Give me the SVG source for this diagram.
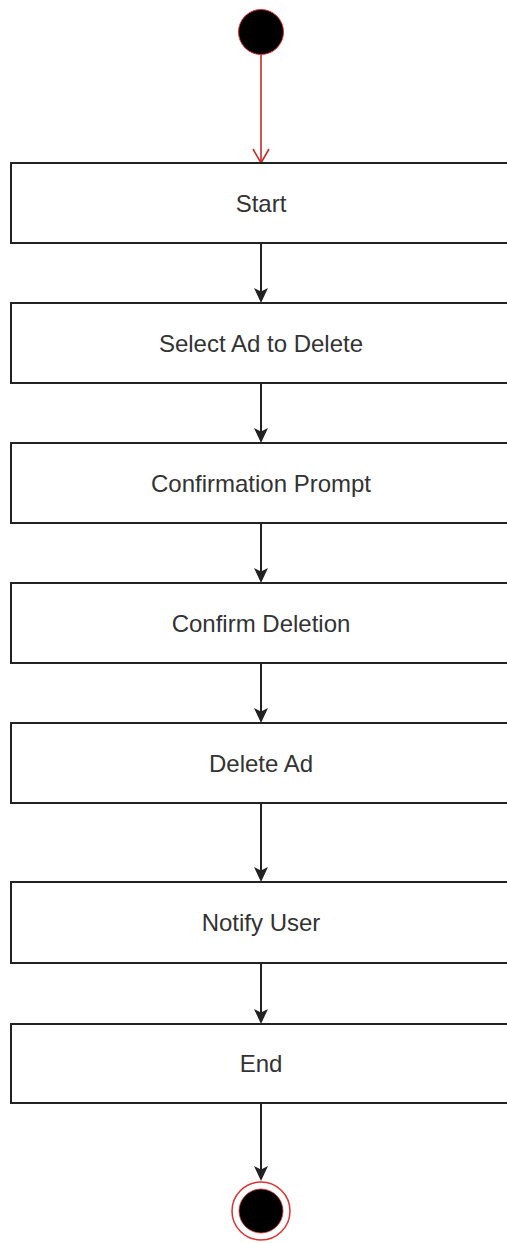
<svg xmlns="http://www.w3.org/2000/svg" width="507" height="1243" viewBox="0 0 507 1243">
  <defs>
    <style>
      .box { fill: #ffffff; stroke: #222222; stroke-width: 2; }
      .lbl { font-family: "Liberation Sans", Arial, sans-serif; font-size: 24px; fill: #333333; text-anchor: middle; dominant-baseline: central; }
      .flow { stroke: #222222; stroke-width: 2; fill: none; }
      .init { stroke: #c42a2a; stroke-width: 1.6; fill: none; }
    </style>
    <marker id="arr" viewBox="0 0 15 14" refX="8" refY="7" markerWidth="15" markerHeight="14" orient="auto" markerUnits="userSpaceOnUse">
      <path d="M0,0 L15,7 L0,14 L3.5,7 z" fill="#222222"/>
    </marker>
    <marker id="openArr" viewBox="0 0 16 18" refX="15" refY="9" markerWidth="16" markerHeight="18" orient="auto" markerUnits="userSpaceOnUse">
      <path d="M1,1 L15,9 L1,17" fill="none" stroke="#c42a2a" stroke-width="1.6"/>
    </marker>
  </defs>
  <rect width="507" height="1243" fill="#ffffff"/>

  <g id="connectors">
    <line class="init" x1="261" y1="55" x2="261" y2="163" marker-end="url(#openArr)"/>
    <line class="flow" x1="261" y1="243" x2="261" y2="296" marker-end="url(#arr)"/>
    <line class="flow" x1="261" y1="383" x2="261" y2="436" marker-end="url(#arr)"/>
    <line class="flow" x1="261" y1="523" x2="261" y2="576" marker-end="url(#arr)"/>
    <line class="flow" x1="261" y1="663" x2="261" y2="716" marker-end="url(#arr)"/>
    <line class="flow" x1="261" y1="803" x2="261" y2="875" marker-end="url(#arr)"/>
    <line class="flow" x1="261" y1="963" x2="261" y2="1017" marker-end="url(#arr)"/>
    <line class="flow" x1="261" y1="1103" x2="261" y2="1174" marker-end="url(#arr)"/>
  </g>

  <g id="initial">
    <circle cx="261" cy="32" r="22.5" fill="#000000" stroke="#e03030" stroke-width="1"/>
  </g>

  <g id="n-start">
    <rect class="box" x="11" y="163" width="510" height="80"/>
    <text class="lbl" x="261" y="203">Start</text>
  </g>
  <g id="n-select">
    <rect class="box" x="11" y="303" width="510" height="80"/>
    <text class="lbl" x="261" y="343">Select Ad to Delete</text>
  </g>
  <g id="n-prompt">
    <rect class="box" x="11" y="443" width="510" height="80"/>
    <text class="lbl" x="261" y="483">Confirmation Prompt</text>
  </g>
  <g id="n-confirm">
    <rect class="box" x="11" y="583" width="510" height="80"/>
    <text class="lbl" x="261" y="623">Confirm Deletion</text>
  </g>
  <g id="n-delete">
    <rect class="box" x="11" y="723" width="510" height="80"/>
    <text class="lbl" x="261" y="763">Delete Ad</text>
  </g>
  <g id="n-notify">
    <rect class="box" x="11" y="882" width="510" height="81"/>
    <text class="lbl" x="261" y="922">Notify User</text>
  </g>
  <g id="n-end">
    <rect class="box" x="11" y="1024" width="510" height="79"/>
    <text class="lbl" x="261" y="1063">End</text>
  </g>

  <g id="final">
    <circle cx="261" cy="1211" r="29" fill="#ffffff" stroke="#e03030" stroke-width="1.5"/>
    <circle cx="261" cy="1211" r="22" fill="#000000" stroke="#e03030" stroke-width="0.8"/>
  </g>
</svg>
